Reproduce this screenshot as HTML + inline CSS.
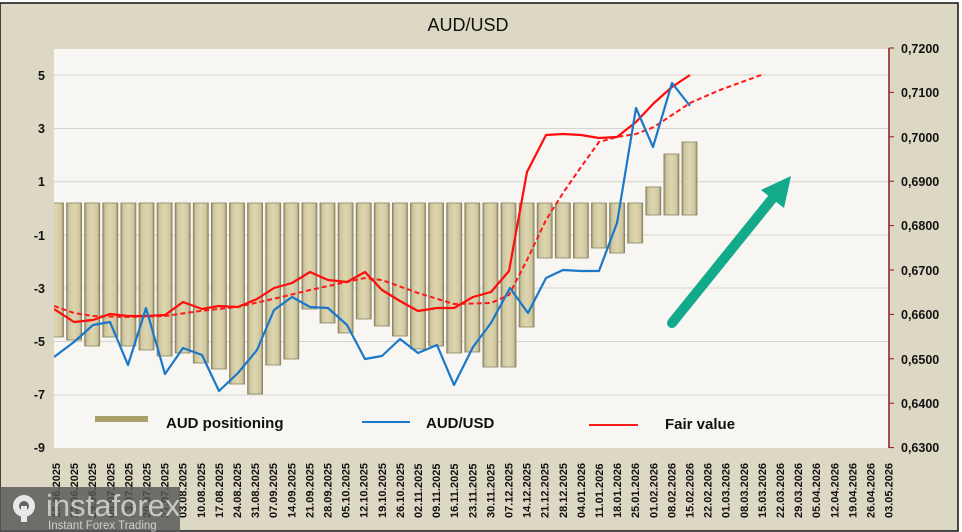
<!DOCTYPE html>
<html><head><meta charset="utf-8"><style>
html,body{margin:0;padding:0;background:#fff}
svg{display:block}
text{font-family:"Liberation Sans","DejaVu Sans",sans-serif}
</style></head><body>
<svg width="962" height="532" viewBox="0 0 962 532" xmlns="http://www.w3.org/2000/svg">
<defs>
<linearGradient id="bg" x1="0" x2="1" y1="0" y2="0">
<stop offset="0" stop-color="#8e8866"/><stop offset="0.15" stop-color="#cfc79f"/><stop offset="0.5" stop-color="#ddd6b0"/><stop offset="0.85" stop-color="#cfc79f"/><stop offset="1" stop-color="#8e8866"/>
</linearGradient>
<clipPath id="pc"><rect x="54" y="49" width="835" height="399"/></clipPath>
</defs>
<rect x="0" y="0" width="962" height="532" fill="#fff"/>
<rect x="0" y="3" width="958" height="528" fill="#ddd8c3" stroke="#111" stroke-width="1.5"/>
<text x="468" y="31" font-size="18" text-anchor="middle" fill="#111">AUD/USD</text>
<rect x="54" y="49" width="835" height="399" fill="#f7f6f2"/>
<g stroke="#d6d4ce" stroke-width="1">
<line x1="54" x2="889" y1="75" y2="75"/><line x1="54" x2="889" y1="128.5" y2="128.5"/>
<line x1="54" x2="889" y1="181.8" y2="181.8"/><line x1="54" x2="889" y1="235" y2="235"/>
<line x1="54" x2="889" y1="288" y2="288"/><line x1="54" x2="889" y1="341.5" y2="341.5"/>
<line x1="54" x2="889" y1="395" y2="395"/>
</g>
<g clip-path="url(#pc)" fill="url(#bg)" stroke="#8a8462" stroke-width="0.8">
<rect x="48.5" y="203" width="15" height="134"/>
<rect x="66.6" y="203" width="15" height="137"/>
<rect x="84.7" y="203" width="15" height="143"/>
<rect x="102.8" y="203" width="15" height="134"/>
<rect x="120.9" y="203" width="15" height="143"/>
<rect x="139" y="203" width="15" height="147"/>
<rect x="157.1" y="203" width="15" height="153"/>
<rect x="175.2" y="203" width="15" height="150"/>
<rect x="193.3" y="203" width="15" height="160"/>
<rect x="211.4" y="203" width="15" height="166"/>
<rect x="229.5" y="203" width="15" height="181"/>
<rect x="247.6" y="203" width="15" height="191"/>
<rect x="265.7" y="203" width="15" height="162"/>
<rect x="283.8" y="203" width="15" height="156"/>
<rect x="301.9" y="203" width="15" height="106"/>
<rect x="320" y="203" width="15" height="120"/>
<rect x="338.1" y="203" width="15" height="130"/>
<rect x="356.2" y="203" width="15" height="116"/>
<rect x="374.3" y="203" width="15" height="123"/>
<rect x="392.4" y="203" width="15" height="133"/>
<rect x="410.5" y="203" width="15" height="146"/>
<rect x="428.6" y="203" width="15" height="143"/>
<rect x="446.7" y="203" width="15" height="150"/>
<rect x="464.8" y="203" width="15" height="149"/>
<rect x="482.9" y="203" width="15" height="164"/>
<rect x="501" y="203" width="15" height="164"/>
<rect x="519.1" y="203" width="15" height="124"/>
<rect x="537.2" y="203" width="15" height="55"/>
<rect x="555.3" y="203" width="15" height="55"/>
<rect x="573.4" y="203" width="15" height="55"/>
<rect x="591.5" y="203" width="15" height="45"/>
<rect x="609.6" y="203" width="15" height="50"/>
<rect x="627.7" y="203" width="15" height="40"/>
<rect x="645.8" y="187" width="15" height="28"/>
<rect x="663.9" y="154" width="15" height="61"/>
<rect x="682" y="142" width="15" height="73"/>
</g>
<g clip-path="url(#pc)" fill="none" stroke-linejoin="round">
<polyline stroke="#ff1a1a" stroke-width="2" stroke-dasharray="5,3" points="54,306 74,313 93,316 128,317 165,316 200,311 237,307 273,299 310,290 347,282 365,278 382,280 418,293 454,304 491,303 509,295 527,260 546,220 563,193 581,167 599,142 617,137 636,134 654,127 672,115 690,103 720,90 764,74"/>
<polyline stroke="#ff0d0d" stroke-width="2.2" points="54,309 74,322 93,320 110,314 128,316 146,316 165,315 183,302 202,309 219,306 238,307 257,299 274,288 292,283 310,272 328,280 347,282 365,272 382,290 400,301 418,311 437,308 454,308 473,297 491,292 509,271 527,172 546,135 563,134 581,135 599,138 617,137 636,122 654,103 672,87 690,75"/>
<polyline stroke="#1a78c8" stroke-width="2.2" points="54,357 74,342 93,325 110,322 128,365 146,308 165,374 183,348 202,355 219,391 238,373 257,350 274,310 292,297 310,307 328,308 347,325 365,359 382,356 400,339 418,353 437,345 454,385 473,347 491,323 510,288 528,313 546,278 563,270 581,271 599,271 617,223 636,108 653,147 672,83 690,106"/>
</g>
<line x1="672" y1="323" x2="772" y2="199" stroke="#13aa8c" stroke-width="10" stroke-linecap="round"/>
<polygon points="791,176 761,190 784,208" fill="#13aa8c"/>
<line x1="889" y1="48" x2="889" y2="448" stroke="#8b1a1a" stroke-width="1.5"/>
<g stroke="#8b1a1a" stroke-width="1">
<line x1="889" x2="894" y1="48" y2="48"/><line x1="889" x2="894" y1="92.4" y2="92.4"/><line x1="889" x2="894" y1="136.8" y2="136.8"/><line x1="889" x2="894" y1="181.2" y2="181.2"/><line x1="889" x2="894" y1="225.6" y2="225.6"/><line x1="889" x2="894" y1="270" y2="270"/><line x1="889" x2="894" y1="314.4" y2="314.4"/><line x1="889" x2="894" y1="358.8" y2="358.8"/><line x1="889" x2="894" y1="403.2" y2="403.2"/><line x1="889" x2="894" y1="447.6" y2="447.6"/>
</g>
<g font-size="12.5" font-weight="bold" fill="#111" text-anchor="end">
<text x="45" y="80">5</text><text x="45" y="133">3</text><text x="45" y="186">1</text><text x="45" y="240">-1</text><text x="45" y="293">-3</text><text x="45" y="346">-5</text><text x="45" y="399">-7</text><text x="45" y="452">-9</text>
</g>
<g font-size="12.5" font-weight="bold" fill="#111">
<text x="901" y="53">0,7200</text><text x="901" y="97">0,7100</text><text x="901" y="142">0,7000</text><text x="901" y="186">0,6900</text><text x="901" y="230">0,6800</text><text x="901" y="275">0,6700</text><text x="901" y="319">0,6600</text><text x="901" y="364">0,6500</text><text x="901" y="408">0,6400</text><text x="901" y="452">0,6300</text>
</g>
<rect x="95" y="416" width="53" height="6" fill="#a9a06c"/>
<text x="166" y="428" font-size="15" font-weight="bold" fill="#111">AUD positioning</text>
<line x1="362" x2="410" y1="422" y2="422" stroke="#1a78c8" stroke-width="2"/>
<text x="426" y="428" font-size="15" font-weight="bold" fill="#111">AUD/USD</text>
<line x1="589" x2="638" y1="425" y2="425" stroke="#ff1a1a" stroke-width="2"/>
<text x="665" y="429" font-size="15" font-weight="bold" fill="#111">Fair value</text>
<g font-size="11" font-weight="bold" fill="#111" id="xl"></g>
<g font-size="11" font-weight="bold" fill="#111">
<text transform="translate(60,518) rotate(-90)">15.06.2025</text>
<text transform="translate(78.1,518) rotate(-90)">22.06.2025</text>
<text transform="translate(96.2,518) rotate(-90)">29.06.2025</text>
<text transform="translate(114.3,518) rotate(-90)">06.07.2025</text>
<text transform="translate(132.4,518) rotate(-90)">13.07.2025</text>
<text transform="translate(150.5,518) rotate(-90)">20.07.2025</text>
<text transform="translate(168.6,518) rotate(-90)">27.07.2025</text>
<text transform="translate(186.7,518) rotate(-90)">03.08.2025</text>
<text transform="translate(204.8,518) rotate(-90)">10.08.2025</text>
<text transform="translate(222.9,518) rotate(-90)">17.08.2025</text>
<text transform="translate(241,518) rotate(-90)">24.08.2025</text>
<text transform="translate(259.1,518) rotate(-90)">31.08.2025</text>
<text transform="translate(277.2,518) rotate(-90)">07.09.2025</text>
<text transform="translate(295.3,518) rotate(-90)">14.09.2025</text>
<text transform="translate(313.4,518) rotate(-90)">21.09.2025</text>
<text transform="translate(331.5,518) rotate(-90)">28.09.2025</text>
<text transform="translate(349.6,518) rotate(-90)">05.10.2025</text>
<text transform="translate(367.7,518) rotate(-90)">12.10.2025</text>
<text transform="translate(385.8,518) rotate(-90)">19.10.2025</text>
<text transform="translate(403.9,518) rotate(-90)">26.10.2025</text>
<text transform="translate(422,518) rotate(-90)">02.11.2025</text>
<text transform="translate(440.1,518) rotate(-90)">09.11.2025</text>
<text transform="translate(458.2,518) rotate(-90)">16.11.2025</text>
<text transform="translate(476.3,518) rotate(-90)">23.11.2025</text>
<text transform="translate(494.4,518) rotate(-90)">30.11.2025</text>
<text transform="translate(512.5,518) rotate(-90)">07.12.2025</text>
<text transform="translate(530.6,518) rotate(-90)">14.12.2025</text>
<text transform="translate(548.7,518) rotate(-90)">21.12.2025</text>
<text transform="translate(566.8,518) rotate(-90)">28.12.2025</text>
<text transform="translate(584.9,518) rotate(-90)">04.01.2026</text>
<text transform="translate(603,518) rotate(-90)">11.01.2026</text>
<text transform="translate(621.1,518) rotate(-90)">18.01.2026</text>
<text transform="translate(639.2,518) rotate(-90)">25.01.2026</text>
<text transform="translate(657.3,518) rotate(-90)">01.02.2026</text>
<text transform="translate(675.4,518) rotate(-90)">08.02.2026</text>
<text transform="translate(693.5,518) rotate(-90)">15.02.2026</text>
<text transform="translate(711.6,518) rotate(-90)">22.02.2026</text>
<text transform="translate(729.7,518) rotate(-90)">01.03.2026</text>
<text transform="translate(747.8,518) rotate(-90)">08.03.2026</text>
<text transform="translate(765.9,518) rotate(-90)">15.03.2026</text>
<text transform="translate(784,518) rotate(-90)">22.03.2026</text>
<text transform="translate(802.1,518) rotate(-90)">29.03.2026</text>
<text transform="translate(820.2,518) rotate(-90)">05.04.2026</text>
<text transform="translate(838.3,518) rotate(-90)">12.04.2026</text>
<text transform="translate(856.4,518) rotate(-90)">19.04.2026</text>
<text transform="translate(874.5,518) rotate(-90)">26.04.2026</text>
<text transform="translate(892.6,518) rotate(-90)">03.05.2026</text>
</g>
<rect x="0" y="487" width="180" height="45" fill="#555" fill-opacity="0.82"/>
<g fill="#e8e8e8">
<circle cx="24" cy="506" r="11"/>
<circle cx="24" cy="506" r="5" fill="#666"/>
<rect x="21" y="506" width="6" height="16"/>
</g>
<text x="46" y="516" font-size="31" fill="#d8d8d8" fill-opacity="0.85">instaforex</text>
<text x="48" y="529" font-size="11.5" fill="#d0d0d0">Instant Forex Trading</text>
</svg>
</body></html>
